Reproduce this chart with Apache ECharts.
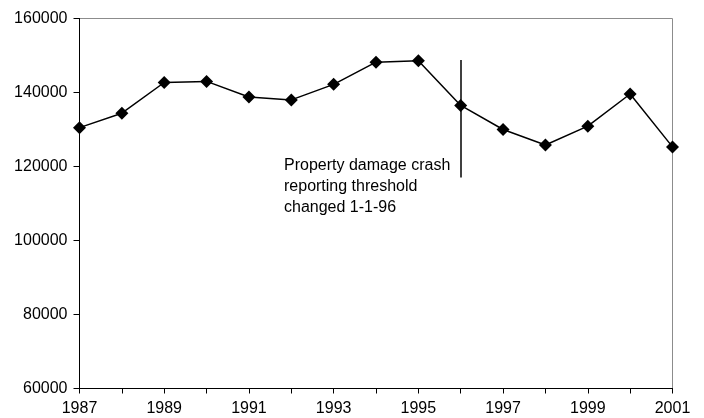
<!DOCTYPE html>
<html>
<head>
<meta charset="utf-8">
<script src="https://cdn.jsdelivr.net/npm/echarts@6/dist/echarts.min.js"></script>
<style>
  html, body { margin: 0; padding: 0; background: #fff; }
  #chart { width: 704px; height: 418px; }
</style>
</head>
<body>
<div id="chart"></div>
<script>
// years on the x axis
const years = ['1987', '1988', '1989', '1990', '1991', '1992', '1993', '1994',
  '1995', '1996', '1997', '1998', '1999', '2000', '2001'];
// property damage crashes per year
const crashes = [130500, 134400, 142700, 143000, 138800, 138000, 142200, 148200,
  148600, 136500, 130000, 125800, 130900, 139600, 125300];
// reporting threshold marker at 1996
const thresholdYear = '1996';
const thresholdRange = [148800, 117000];
const noteLines = ['Property damage crash', 'reporting threshold', 'changed 1-1-96'];

const chart = echarts.init(document.getElementById('chart'));
const font = 'Liberation Sans, Arial, sans-serif';

chart.setOption({
  animation: false,
  grid: {
    left: 79.5, right: 31.5, top: 18.5, bottom: 29.5,
    show: true, borderColor: '#8c8c8c', borderWidth: 1
  },
  xAxis: {
    type: 'category',
    data: years,
    boundaryGap: false,
    axisLine: { lineStyle: { color: '#000', width: 1 } },
    axisTick: { show: true, interval: 0, length: 5, lineStyle: { color: '#000' } },
    axisLabel: {
      interval: 1, color: '#000', fontFamily: font, fontSize: 16, margin: 12
    },
    splitLine: { show: false }
  },
  yAxis: {
    type: 'value',
    min: 60000, max: 160000, interval: 20000,
    axisLine: { show: true, lineStyle: { color: '#000', width: 1 } },
    axisTick: { show: true, length: 6, lineStyle: { color: '#000' } },
    axisLabel: {
      color: '#000', fontFamily: font, fontSize: 16, margin: 12,
      formatter: v => String(v)
    },
    splitLine: { show: false }
  },
  series: [{
    type: 'line',
    data: crashes,
    symbol: 'diamond',
    symbolSize: 13,
    itemStyle: { color: '#000' },
    lineStyle: { color: '#000', width: 1.5 },
    markLine: {
      silent: true,
      symbol: 'none',
      label: { show: false },
      lineStyle: { color: '#000', width: 1.5, type: 'solid' },
      data: [[
        { coord: [thresholdYear, thresholdRange[0]] },
        { coord: [thresholdYear, thresholdRange[1]] }
      ]]
    }
  }],
  graphic: [{
    type: 'text',
    left: 284,
    top: 155,
    style: {
      text: noteLines.join('\n'),
      fontFamily: font,
      fontSize: 16,
      lineHeight: 21,
      fill: '#000'
    }
  }]
});
</script>
</body>
</html>
